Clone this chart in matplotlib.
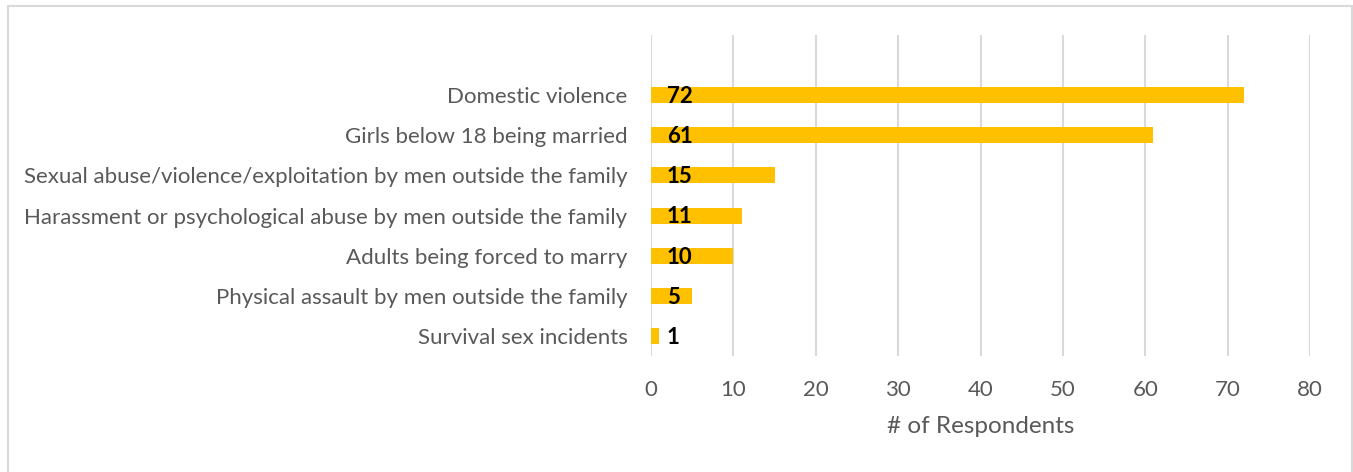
import matplotlib.pyplot as plt
from matplotlib.patches import Rectangle

plt.rcParams['font.family'] = ['Lato', 'DejaVu Sans']

categories = [
    "Domestic violence",
    "Girls below 18 being married",
    "Sexual abuse/violence/exploitation by men outside the family",
    "Harassment or psychological abuse by men outside the family",
    "Adults being forced to marry",
    "Physical assault by men outside the family",
    "Survival sex incidents",
]
values = [72, 61, 15, 11, 10, 5, 1]
xticks = [0, 10, 20, 30, 40, 50, 60, 70, 80]

gray = '#595959'

fig = plt.figure(figsize=(13.53, 4.72), dpi=100)
ax = fig.add_axes([651 / 1353, 1 - 356 / 472, 659 / 1353, 321 / 472])

# bottom-to-top order like Excel
ypos = list(range(len(categories)))[::-1]
ax.barh(ypos, values, height=0.4, color='#FFC000', zorder=2)

for y, v in zip(ypos, values):
    ax.annotate(str(v), xy=(0, y), xytext=(11.5, -1), textcoords='offset points',
                ha='left', va='center', fontsize=16, fontweight='bold',
                color='black', zorder=3)

ax.set_xlim(0, 80)
ax.set_ylim(-0.5, 7.5)
ax.set_xticks(xticks)
ax.set_xticklabels([str(t) for t in xticks])
ax.set_yticks(ypos)
ax.set_yticklabels(categories)
ax.tick_params(axis='both', length=0, colors=gray, labelsize=16)
ax.tick_params(axis='y', pad=17)
ax.tick_params(axis='x', pad=17)

ax.grid(axis='x', color='#d9d9d9', linewidth=1.5, zorder=0)
for s in ax.spines.values():
    s.set_visible(False)

ax.set_xlabel("# of Respondents", fontsize=17.5, color=gray, labelpad=12)

# outer chart border
fig.patches.append(Rectangle((8 / 1353, -0.05), 1344 / 1353, 1.05 - 6 / 472,
                             transform=fig.transFigure, fill=False,
                             edgecolor='#d9d9d9', linewidth=1.5))

fig.savefig('out.png', dpi=100)
